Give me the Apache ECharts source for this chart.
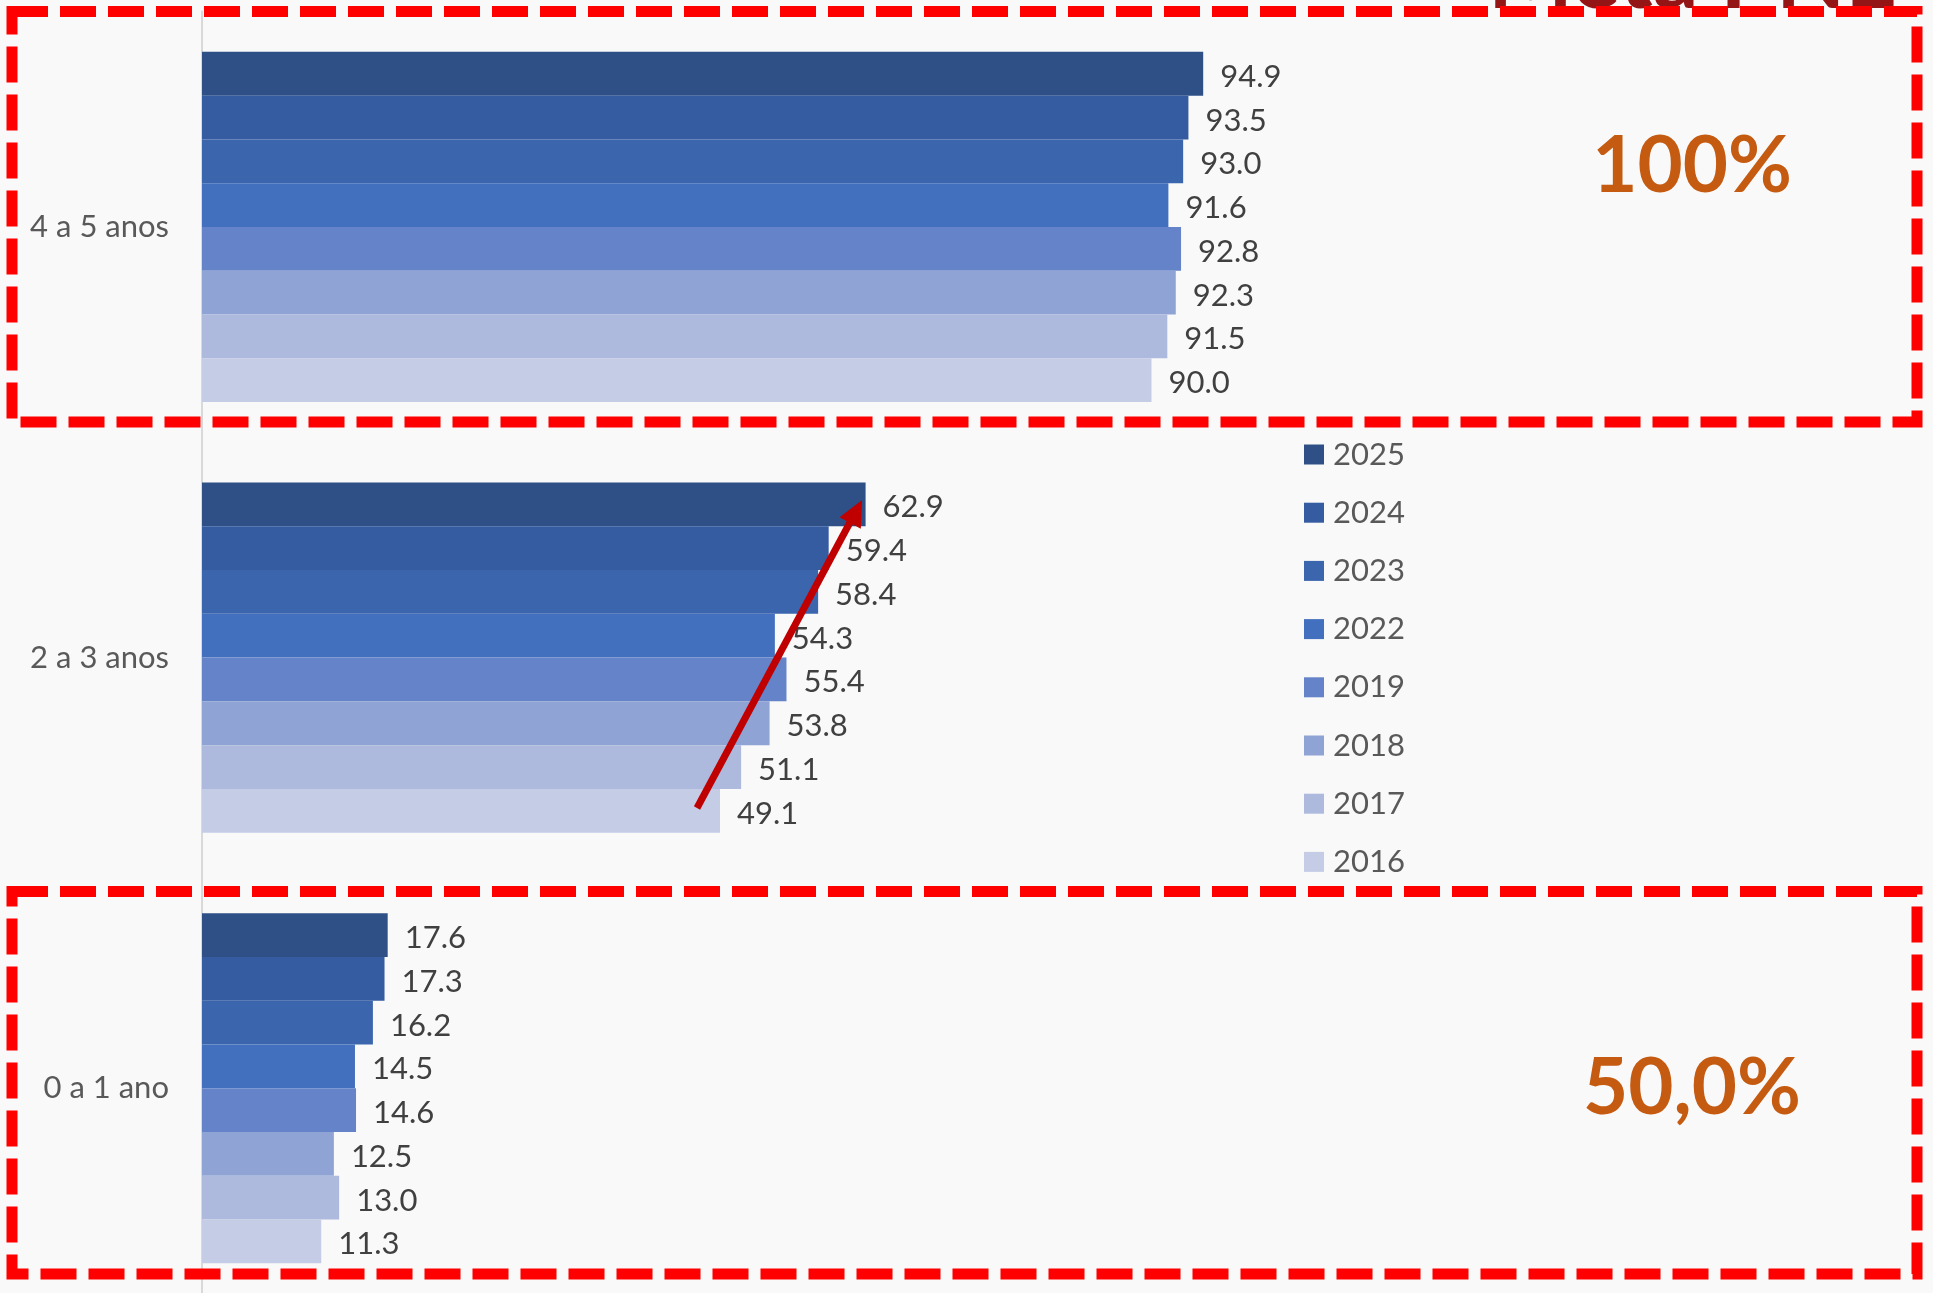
<!DOCTYPE html>
<html>
<head>
<meta charset="utf-8">
<script src="https://cdn.jsdelivr.net/npm/echarts@6/dist/echarts.min.js"></script>
<style>
html,body{margin:0;padding:0;background:#f9f9f9;}
#chart{width:1933px;height:1293px;}
</style>
</head>
<body>
<div id="chart"></div>
<script>
// Categories (bottom to top on the y axis)
const categories = ['0 a 1 ano', '2 a 3 anos', '4 a 5 anos'];
// Years (series order: first = top bar in each group)
const years = ['2025', '2024', '2023', '2022', '2019', '2018', '2017', '2016'];
// Values per year, in category order [0 a 1, 2 a 3, 4 a 5]
const v2025 = [17.6, 62.9, 94.9];
const v2024 = [17.3, 59.4, 93.5];
const v2023 = [16.2, 58.4, 93.0];
const v2022 = [14.5, 54.3, 91.6];
const v2019 = [14.6, 55.4, 92.8];
const v2018 = [12.5, 53.8, 92.3];
const v2017 = [13.0, 51.1, 91.5];
const v2016 = [11.3, 49.1, 90.0];
const seriesValues = [v2025, v2024, v2023, v2022, v2019, v2018, v2017, v2016];
const colors = ['#2e5087', '#355ba0', '#3b65ad', '#4270be', '#6483c8', '#8fa3d4', '#adbadd', '#c5cde6'];

const FONT = 'Lato, "Open Sans", sans-serif';

const chart = echarts.init(document.getElementById('chart'), null, {renderer: 'canvas'});
const option = {
  backgroundColor: '#f9f9f9',
  animation: false,
  textStyle: {fontFamily: FONT},
  grid: {left: 202, top: 11.6, width: 1055, height: 1292, containLabel: false, outerBoundsMode: 'none'},
  xAxis: {
    type: 'value', min: 0, max: 100, show: false
  },
  yAxis: {
    type: 'category',
    data: categories,
    axisLine: {show: true, lineStyle: {color: '#d9d9d9', width: 2}},
    axisTick: {show: false},
    splitLine: {show: false},
    axisLabel: {color: '#595959', fontSize: 31, margin: 33, fontFamily: FONT}
  },
  legend: {
    orient: 'vertical',
    left: 1299,
    top: 434,
    itemWidth: 20,
    itemHeight: 20,
    itemGap: 27.2,
    icon: 'rect',
    data: years,
    textStyle: {color: '#595959', fontSize: 31, padding: [0, 0, 0, 4], fontFamily: FONT}
  },
  series: years.map((y, i) => ({
    name: y,
    type: 'bar',
    data: seriesValues[i],
    barGap: '0%',
    barCategoryGap: '18.7%',
    itemStyle: {color: colors[i]},
    label: {
      show: true,
      position: 'right',
      distance: 17,
      offset: [0, 3],
      color: '#404040',
      fontSize: 31,
      fontFamily: FONT,
      formatter: p => p.value.toFixed(1)
    }
  })),
  graphic: [
    {
      type: 'text', z: 100,
      style: {text: 'Meta PNE', x: 1488, y: -21, fill: '#941515', font: 'bold 90px ' + FONT, verticalAlign: 'middle'}
    },
    {
      type: 'text', z: 100,
      style: {text: '100%', x: 1692, y: 167, fill: '#c55a11', font: 'bold 78px ' + FONT, align: 'center', verticalAlign: 'middle'}
    },
    {
      type: 'text', z: 100,
      style: {text: '50,0%', x: 1692, y: 1089, fill: '#c55a11', font: 'bold 78px ' + FONT, align: 'center', verticalAlign: 'middle'}
    },
    {
      type: 'rect', z: 110,
      shape: {x: 12, y: 11.5, width: 1905, height: 410.5},
      style: {fill: 'none', stroke: '#ff0000', lineWidth: 11, lineDash: [36, 12]}
    },
    {
      type: 'rect', z: 110,
      shape: {x: 12, y: 891.5, width: 1905, height: 382.5},
      style: {fill: 'none', stroke: '#ff0000', lineWidth: 11, lineDash: [36, 12]}
    },
    {
      type: 'line', z: 105,
      shape: {x1: 697, y1: 808, x2: 850.2, y2: 522},
      style: {stroke: '#c00000', lineWidth: 7}
    },
    {
      type: 'polygon', z: 105,
      shape: {points: [[862, 500], [860.8, 528.7], [839.6, 517.3]]},
      style: {fill: '#c00000'}
    }
  ]
};
chart.setOption(option);
</script>
</body>
</html>
